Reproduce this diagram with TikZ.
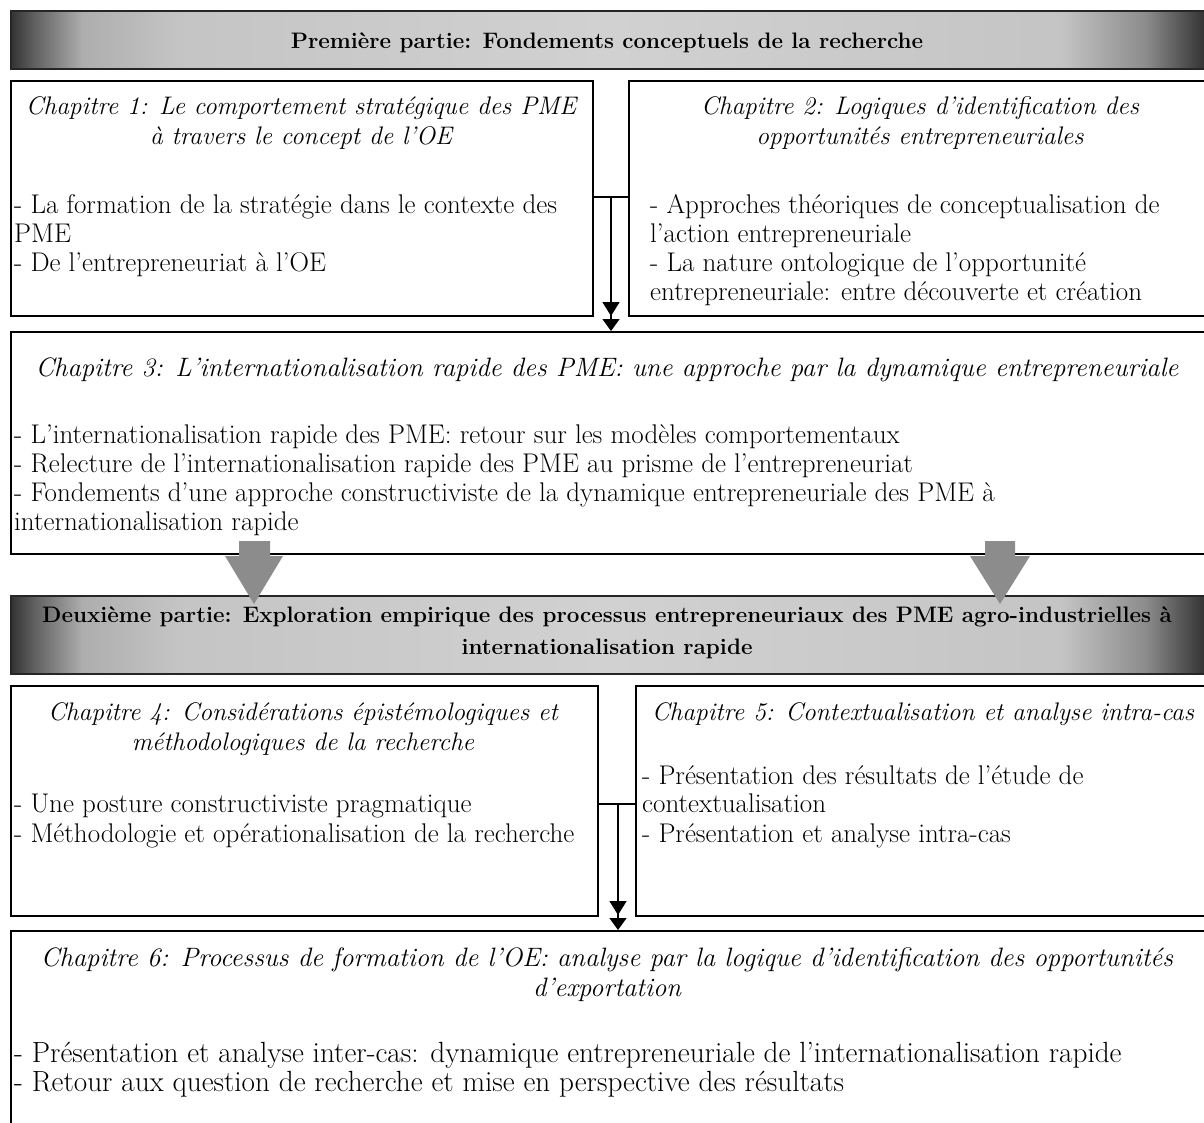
\documentclass[tikz,border=0pt]{standalone}
\usetikzlibrary{arrows.meta}
\pgfdeclarehorizontalshading{hdr}{100bp}{color(0bp)=(black!80); color(25bp)=(black!80); color(26bp)=(black!62); color(28bp)=(black!32); color(32bp)=(black!23); color(50bp)=(black!18); color(69bp)=(black!23); color(72.5bp)=(black!45); color(75bp)=(black!80); color(100bp)=(black!80)}
\begin{document}
\begin{tikzpicture}[x=1pt,y=-1pt,
  font=\fontsize{27}{29}\selectfont,
  box/.style={draw, line width=1.6pt, inner sep=0pt, anchor=north west},
  hdrbox/.style={box, draw=black!85, shade, shading=hdr},
  ttl/.style={anchor=base, inner sep=0pt, font=\fontsize{25.4}{29}\selectfont\itshape},
  lttl/.style={anchor=base, inner sep=0pt, font=\fontsize{26.6}{29}\selectfont\itshape},
  hd/.style={anchor=base, inner sep=0pt, font=\fontsize{22.4}{29}\selectfont\bfseries},
  itm/.style={anchor=base west, inner sep=0pt},
  bitm/.style={itm, font=\fontsize{29.2}{29}\selectfont},
  arr/.style={line width=1.5pt, -{Triangle[length=14pt,width=17pt,sep=3pt]Triangle[length=12pt,width=17pt]}},
  big/.style={fill=black!45}]
\useasboundingbox (0,0) rectangle (1204,1122);
\begin{scope}
\clip (0,0) rectangle (1204,1122);
% boxes
\node[hdrbox, minimum width=1194pt, minimum height=58pt] (h1) at (10,10) {};
\node[box, minimum width=582pt, minimum height=235pt] (c1) at (10,80) {};
\node[box, minimum width=580pt, minimum height=235pt] (c2) at (628,80) {};
\node[box, minimum width=1198pt, minimum height=222pt] (c3) at (10,331) {};
\node[hdrbox, minimum width=1194pt, minimum height=78pt] (h2) at (10,595) {};
\node[box, minimum width=587pt, minimum height=230pt] (c4) at (10,685) {};
\node[box, minimum width=573pt, minimum height=230pt] (c5) at (635,685) {};
\node[box, minimum width=1198pt, minimum height=220pt] (c6) at (10,930) {};

% header texts
\node[hd] (h1t) at (607,48) {Première partie: Fondements conceptuels de la recherche};
\node[hd] (h2a) at (607,622) {Deuxième partie: Exploration empirique des processus entrepreneuriaux des PME agro-industrielles à};
\node[hd] (h2b) at (607,654) {internationalisation rapide};

% chapter 1
\node[ttl] (t1a) at (301,114) {Chapitre 1: Le comportement stratégique des PME};
\node[ttl] (t1b) at (301,144) {à travers le concept de l’OE};
\node[itm] (i1a) at (14,213) {- La formation de la stratégie dans le contexte des};
\node[itm] (i1b) at (14,242) {PME};
\node[itm] (i1c) at (14,271) {- De l’entrepreneuriat à l’OE};

% chapter 2
\node[ttl] (t2a) at (920,114) {Chapitre 2: Logiques d’identification des};
\node[ttl] (t2b) at (920,144) {opportunités entrepreneuriales};
\node[itm] (i2a) at (650,213) {- Approches théoriques de conceptualisation de};
\node[itm] (i2b) at (650,242) {l’action entrepreneuriale};
\node[itm] (i2c) at (650,271) {- La nature ontologique de l’opportunité};
\node[itm] (i2d) at (650,300) {entrepreneuriale: entre découverte et création};

% chapter 3
\node[lttl] (t3) at (607,376) {Chapitre 3: L’internationalisation rapide des PME: une approche par la dynamique entrepreneuriale};
\node[itm] (i3a) at (14,443) {- L’internationalisation rapide des PME: retour sur les modèles comportementaux};
\node[itm] (i3b) at (14,472) {- Relecture de l’internationalisation rapide des PME au prisme de l’entrepreneuriat};
\node[itm] (i3c) at (14,501) {- Fondements d’une approche constructiviste de la dynamique entrepreneuriale des PME à};
\node[itm] (i3d) at (14,530) {internationalisation rapide};

% chapter 4
\node[ttl] (t4a) at (303,720) {Chapitre 4: Considérations épistémologiques et};
\node[ttl] (t4b) at (303,750) {méthodologiques de la recherche};
\node[itm] (i4a) at (14,812) {- Une posture constructiviste pragmatique};
\node[itm] (i4b) at (14,842) {- Méthodologie et opérationalisation de la recherche};

% chapter 5
\node[ttl] (t5) at (923,720) {Chapitre 5: Contextualisation et analyse intra-cas};
\node[itm] (i5a) at (642,784) {- Présentation des résultats de l’étude de};
\node[itm] (i5b) at (642,812) {contextualisation};
\node[itm] (i5c) at (642,842) {- Présentation et analyse intra-cas};

% chapter 6
\node[lttl] (t6a) at (607,966) {Chapitre 6: Processus de formation de l’OE: analyse par la logique d’identification des opportunités};
\node[lttl] (t6b) at (607,996) {d’exportation};
\node[bitm] (i6a) at (14,1062) {- Présentation et analyse inter-cas: dynamique entrepreneuriale de l’internationalisation rapide};
\node[bitm] (i6b) at (14,1091) {- Retour aux question de recherche et mise en perspective des résultats};

% connectors
\coordinate (j1) at (611,197);
\draw[line width=1.5pt] (c1.east |- j1) -- (c2.west |- j1);
\draw[arr] (j1) -- (j1 |- c3.north);
\coordinate (j2) at (618,804);
\draw[line width=1.5pt] (c4.east |- j2) -- (c5.west |- j2);
\draw[arr] (j2) -- (j2 |- c6.north);

% big grey arrows
\fill[big] (239,541) -- (270,541) -- (270,556) -- (283,556) -- (254,604) -- (225,556) -- (239,556) -- cycle;
\fill[big] (985,541) -- (1015,541) -- (1015,556) -- (1030,556) -- (1000,604) -- (970,556) -- (985,556) -- cycle;
\end{scope}
\end{tikzpicture}
\end{document}
